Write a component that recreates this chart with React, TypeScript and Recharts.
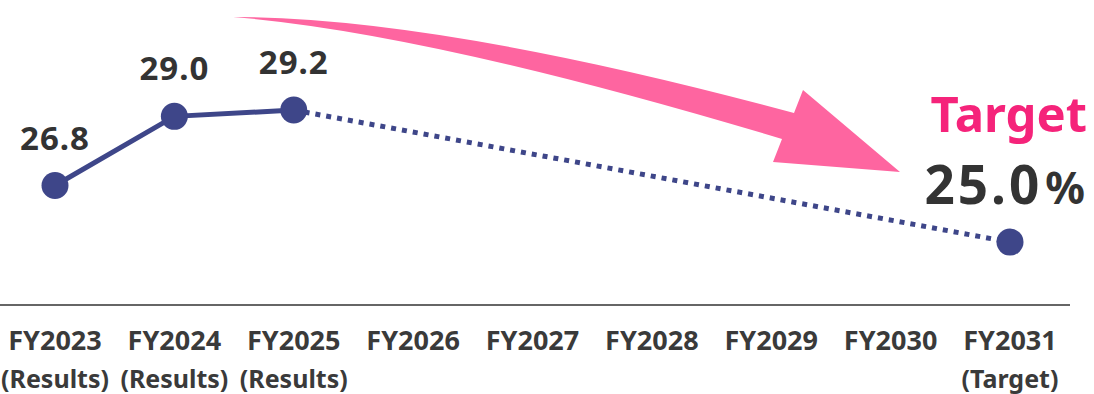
import React from 'react';
import { LineChart, Line, XAxis, YAxis, LabelList, Customized } from 'recharts';

const categories = ['FY2023', 'FY2024', 'FY2025', 'FY2026', 'FY2027', 'FY2028', 'FY2029', 'FY2030', 'FY2031'];
const subLabels = ['(Results)', '(Results)', '(Results)', '', '', '', '', '', '(Target)'];
const results = [26.8, 29.0, 29.2, null, null, null, null, null, null];
const target = [null, null, 29.2, null, null, null, null, null, 25.0];

const data = categories.map((c, i) => ({ cat: c, sub: subLabels[i], results: results[i], target: target[i] }));

const NAVY = '#3e4689';
const PINK = '#fe65a0';
const FONT = '"Noto Sans", sans-serif';

const Tick = (props: any) => {
  const { x, y, index } = props;
  return (
    <g fontFamily={FONT} fontWeight={700} fill="#3a3a3a">
      <text x={x} y={y + 45} textAnchor="middle" fontSize={27} fill="#3a3a3a">{categories[index]}</text>
      <text x={x} y={y + 83} textAnchor="middle" fontSize={25} fill="#3a3a3a">{subLabels[index]}</text>
    </g>
  );
};

const ValueLabel = (props: any) => {
  const { x, y, value } = props;
  if (value == null) return null;
  return (
    <text x={x} y={y - 36} textAnchor="middle" fontFamily={FONT} fontWeight={700} fontSize={33} letterSpacing={1} fill="#333">
      {value.toFixed(1)}
    </text>
  );
};

const TargetLabel = (props: any) => {
  const { x, y, value, index } = props;
  if (index !== categories.length - 1 || value == null) return null;
  return (
    <g fontFamily={FONT} fontWeight={700}>
      <text x={x + 77} y={y - 110} textAnchor="end" fontSize={49} fill="#f5237a">Target</text>
      <text x={x + 75} y={y - 38} textAnchor="end" fill="#333">
        <tspan fontSize={53} letterSpacing={3}>{value.toFixed(1)}</tspan>
        <tspan fontSize={44} dx={3}>%</tspan>
      </text>
    </g>
  );
};

const TargetDot = (props: any) => {
  const { cx, cy, index } = props;
  if (index !== categories.length - 1) return <g key={index} />;
  return <circle key={index} cx={cx} cy={cy} r={13.5} fill={NAVY} />;
};

const Arrow = () => (
  <path
    d="M 233 17 Q 439 17 794 113 L 803 90 L 900 172 L 773 162 L 782 139 Q 430 33 233 17 Z"
    fill={PINK}
  />
);

export default function App() {
  return (
    <div style={{ position: 'absolute', left: 0, top: 0, background: '#fff' }}>
      <LineChart width={1094} height={394} data={data} margin={{ top: 0, right: 24, bottom: 9, left: -5 }}>
        <XAxis
          dataKey="cat"
          interval={0}
          tickLine={false}
          tickSize={0}
          tickMargin={0}
          height={80}
          padding={{ left: 60, right: 60 }}
          axisLine={{ stroke: '#333', strokeWidth: 1.5 }}
          tick={<Tick />}
        />
        <YAxis hide domain={[23, 32.7]} />
        <Customized component={<Arrow />} />
        <Line
          dataKey="target"
          stroke={NAVY}
          strokeWidth={5}
          strokeDasharray="5 6"
          connectNulls
          dot={<TargetDot />}
          activeDot={false}
          isAnimationActive={false}
        >
          <LabelList dataKey="target" content={<TargetLabel />} />
        </Line>
        <Line
          dataKey="results"
          stroke={NAVY}
          strokeWidth={5}
          dot={{ r: 13.5, fill: NAVY, stroke: 'none' }}
          activeDot={false}
          isAnimationActive={false}
        >
          <LabelList dataKey="results" content={<ValueLabel />} />
        </Line>
      </LineChart>
    </div>
  );
}
